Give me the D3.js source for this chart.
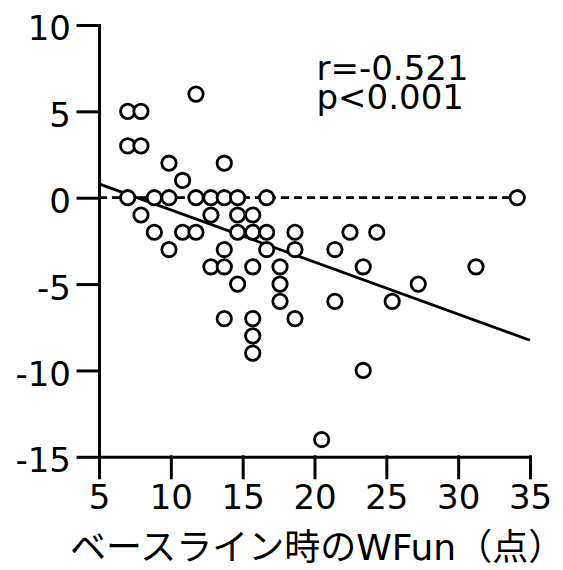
<!DOCTYPE html>
<html lang="ja">
<head>
<meta charset="UTF-8">
<script src="https://cdn.jsdelivr.net/npm/d3@7"></script>
<title>WFun scatter</title>
<style>
  body { margin: 0; background: #fff; }
  svg { display: block; }
  .axis path, .axis line { stroke: #000; stroke-width: 3px; stroke-linecap: square; }
  .axis text { font-family: "DejaVu Sans", "Noto Sans CJK JP", sans-serif; font-size: 34px; fill: #000; }
  .label { font-family: "DejaVu Sans", "Noto Sans CJK JP", sans-serif; font-size: 34px; fill: #000; }
  .title { font-size: 36px; }
</style>
</head>
<body>
<div id="chart"></div>
<script>
// baseline WFun (x) and change (y)
const baselineWFun = [
  11.75,
  7.0, 7.92,
  7.0, 7.92,
  9.87, 13.72,
  10.82,
  7.0, 8.85, 9.87, 11.75, 12.79, 13.72, 14.65, 16.67, 34.11,
  7.92, 12.79, 14.65, 15.70,
  8.85, 10.82, 11.75, 14.65, 15.70, 16.67, 18.64, 22.47, 24.33,
  9.87, 13.72, 16.67, 18.64, 21.42,
  12.79, 13.72, 15.70, 17.60, 23.39, 31.24,
  14.65, 17.60, 27.22,
  17.60, 21.42, 25.41,
  13.72, 15.70, 18.64,
  15.70, 15.70, 23.39, 20.50
];
const wfunChange = [
  6,
  5, 5,
  3, 3,
  2, 2,
  1,
  0, 0, 0, 0, 0, 0, 0, 0, 0,
  -1, -1, -1, -1,
  -2, -2, -2, -2, -2, -2, -2, -2, -2,
  -3, -3, -3, -3, -3,
  -4, -4, -4, -4, -4, -4,
  -5, -5, -5,
  -6, -6, -6,
  -7, -7, -7,
  -8, -9, -10, -14
];
const fitX = [5, 35];
const fitY = [0.8, -8.25];
const xTicks = [5, 10, 15, 20, 25, 30, 35];
const yTicks = [-15, -10, -5, 0, 5, 10];
const statLines = ["r=-0.521", "p<0.001"];
const xTitle = "ベースライン時のWFun（点）";

const width = 563, height = 570;

const x = d3.scaleLinear().domain([5, 35]).range([99, 530]);
const y = d3.scaleLinear().domain([-15, 10]).range([456.8, 25]);

const svg = d3.select("#chart").append("svg")
    .attr("width", width)
    .attr("height", height);

// axes (plain hyphen for negatives, like the original)
svg.append("g")
    .attr("class", "axis")
    .attr("transform", `translate(0,${y(-15)})`)
    .call(d3.axisBottom(x).tickValues(xTicks).tickFormat(d => String(d))
        .tickSize(21).tickSizeOuter(0).tickPadding(7));

svg.append("g")
    .attr("class", "axis")
    .attr("transform", `translate(${x(5)},0)`)
    .call(d3.axisLeft(y).tickValues(yTicks).tickFormat(d => String(d))
        .tickSize(21).tickSizeOuter(0).tickPadding(7))
    .selectAll("text").attr("dy", "0.44em");

// zero line
svg.append("line")
    .attr("x1", x(5)).attr("x2", x(34.11))
    .attr("y1", y(0)).attr("y2", y(0))
    .attr("stroke", "#000")
    .attr("stroke-width", 2.8)
    .attr("stroke-dasharray", "8,5");

// fit line
svg.append("line")
    .attr("x1", x(fitX[0])).attr("x2", x(fitX[1]))
    .attr("y1", y(fitY[0])).attr("y2", y(fitY[1]))
    .attr("stroke", "#000")
    .attr("stroke-width", 2.8);

// points
svg.selectAll("circle")
    .data(baselineWFun)
    .enter()
    .append("circle")
    .attr("cx", d => x(d))
    .attr("cy", (d, i) => y(wfunChange[i]))
    .attr("r", 7.2)
    .attr("fill", "#fff")
    .attr("stroke", "#000")
    .attr("stroke-width", 2.8);

// r / p
svg.selectAll(".stat")
    .data(statLines)
    .enter()
    .append("text")
    .attr("class", "label stat")
    .attr("x", 316.5)
    .attr("y", (d, i) => 80 + i * 28.5)
    .text(d => d);

svg.append("text")
    .attr("class", "label title")
    .attr("x", 70)
    .attr("y", 560)
    .text(xTitle);
</script>
</body>
</html>
